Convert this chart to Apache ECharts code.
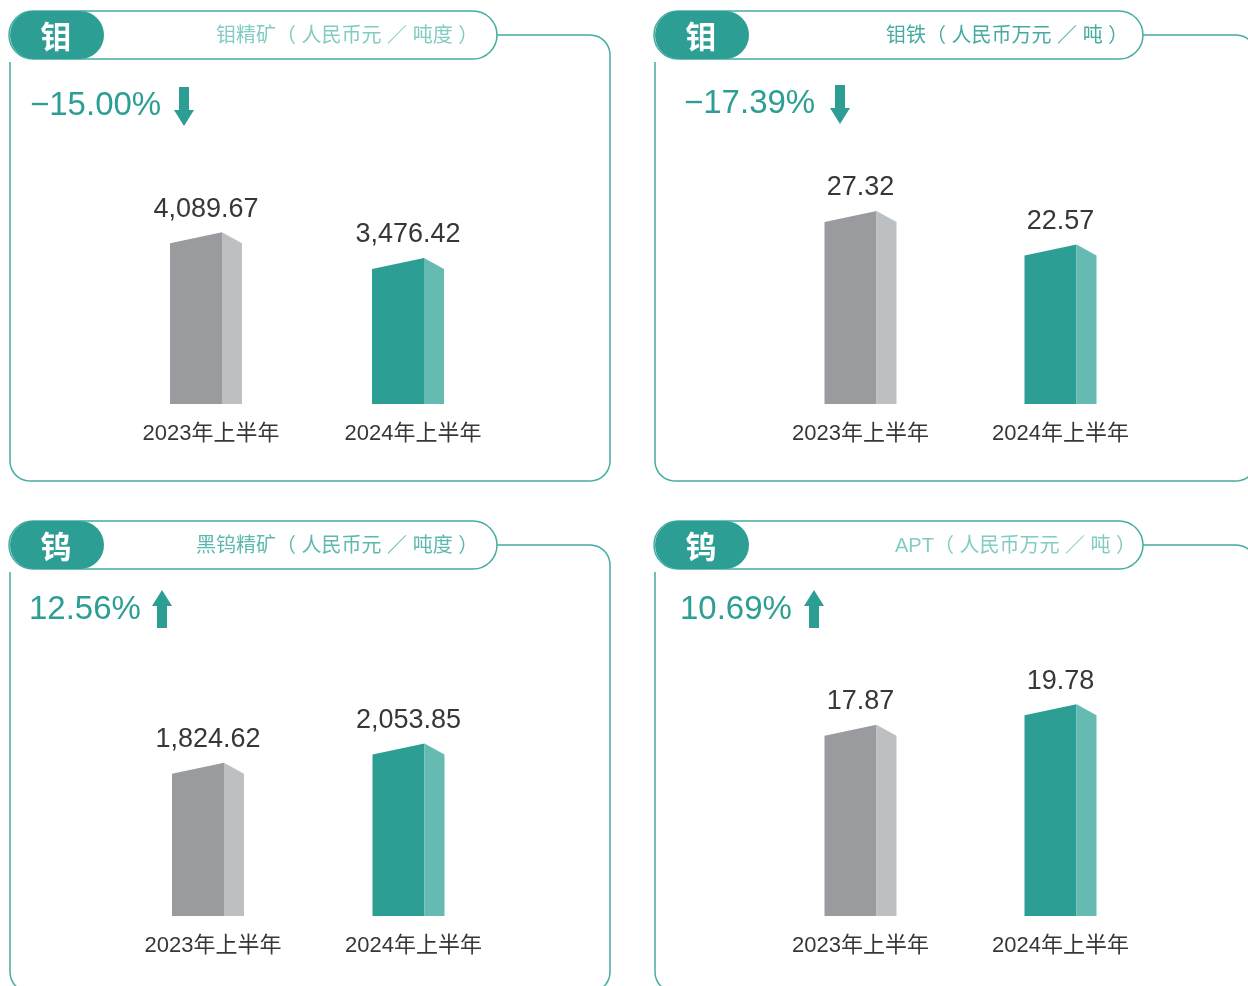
<!DOCTYPE html>
<html>
<head>
<meta charset="utf-8">
<script src="https://cdn.jsdelivr.net/npm/echarts@6/dist/echarts.min.js"></script>
<style>
  html, body { margin: 0; padding: 0; background: #ffffff; }
  #chart { width: 1248px; height: 986px; }
</style>
</head>
<body>
<div id="chart"></div>
<script>
// Half-year price comparison for molybdenum and tungsten products
const categories = ['2023年上半年', '2024年上半年'];
const moConcentrate = [4089.67, 3476.42];   // 钼精矿 元/吨度
const moFerro = [27.32, 22.57];             // 钼铁 万元/吨
const wConcentrate = [1824.62, 2053.85];    // 黑钨精矿 元/吨度
const aptPrice = [17.87, 19.78];            // APT 万元/吨
const metalNames = ['钼', '钼', '钨', '钨'];
const productTitles = [
  '钼精矿（人民币元／吨度）',
  '钼铁（人民币万元／吨）',
  '黑钨精矿（人民币元／吨度）',
  'APT（人民币万元／吨）'
];
const seriesValues = [moConcentrate, moFerro, wConcentrate, aptPrice];

// Panel geometry (frame, grid placement, headline positions)
const panels = [
  { x0: 10,  y0: 11,  pillR: 497,  right: 610,  bottom: 481, gridLeft: 105,   gridW: 404, base: 404, h: 210, max: 5000, titleX: 216, titleColor: '#82ccc4', pctX: 30,  pctY: 106, arrowX: 184, arrowY: 87 },
  { x0: 655, y0: 11,  pillR: 1143, right: 1256, bottom: 481, gridLeft: 760.5, gridW: 400, base: 404, h: 212, max: 30,   titleX: 886, titleColor: '#45aba1', pctX: 684, pctY: 104, arrowX: 840, arrowY: 85 },
  { x0: 10,  y0: 521, pillR: 497,  right: 610,  bottom: 992, gridLeft: 107.75, gridW: 401, base: 916, h: 210, max: 2500, titleX: 196, titleColor: '#5cb9af', pctX: 29,  pctY: 610, arrowX: 162, arrowY: 590 },
  { x0: 655, y0: 521, pillR: 1143, right: 1256, bottom: 992, gridLeft: 760.5, gridW: 400, base: 916, h: 214, max: 20,   titleX: 895, titleColor: '#82ccc4', pctX: 680, pctY: 610, arrowX: 814, arrowY: 590 }
];

const TEAL = '#2c9e94';
const LINE = '#45aca2';
const NUM_FONT = "'Liberation Sans', Arial, 'Noto Sans CJK SC', sans-serif";
const CJK_FONT = "'Liberation Sans', 'Noto Sans CJK SC', sans-serif";
const faceColors = [
  { front: '#9a9b9f', side: '#bdc0c3' },
  { front: '#2c9e94', side: '#65bab1' }
];

function fmt(v) {
  return v.toLocaleString('en-US', { minimumFractionDigits: 2, maximumFractionDigits: 2 });
}

// open up the full-width brackets and slash a little
function spacedTitle(t) {
  return t.replace('（', '（ ').replace('／', ' ／ ').replace('）', ' ）');
}

function changeText(vals) {
  const pct = (vals[1] - vals[0]) / vals[0] * 100;
  const s = Math.abs(pct).toFixed(2) + '%';
  return pct < 0 ? '\u2212' + s : s;
}

// Quarter-circle points from angle a0 to a1 around (cx, cy)
function arcPts(cx, cy, r, a0, a1) {
  const pts = [];
  const n = 12;
  for (let i = 0; i <= n; i++) {
    const a = a0 + (a1 - a0) * i / n;
    pts.push([cx + r * Math.cos(a), cy + r * Math.sin(a)]);
  }
  return pts;
}

// Border: connector from the header pill, around the panel, back up the left side
function framePoints(p) {
  const r = 20;
  const cy = p.y0 + 24;
  const H = Math.PI / 2;
  let pts = [[p.pillR, cy]];
  pts = pts.concat(arcPts(p.right - r, cy + r, r, -H, 0));
  pts = pts.concat(arcPts(p.right - r, p.bottom - r, r, 0, H));
  pts = pts.concat(arcPts(p.x0 + r, p.bottom - r, r, H, 2 * H));
  pts.push([p.x0, p.y0 + 51]);
  return pts;
}

function arrowPoints(x, y, down) {
  // shaft 10px wide, head 19px wide, total 39px tall
  if (down) {
    return [[x - 5, y], [x + 5, y], [x + 5, y + 23], [x + 10, y + 23], [x, y + 39], [x - 10, y + 23], [x - 5, y + 23]];
  }
  return [[x, y], [x + 10, y + 16], [x + 5, y + 16], [x + 5, y + 38], [x - 5, y + 38], [x - 5, y + 16], [x - 10, y + 16]];
}

const graphics = [];
panels.forEach(function (p, k) {
  graphics.push({
    type: 'polyline', z: 0,
    shape: { points: framePoints(p) },
    style: { fill: null, stroke: LINE, lineWidth: 1.5 }
  });
  graphics.push({
    type: 'rect', z: 1,
    shape: { x: p.x0 - 1, y: p.y0, width: p.pillR - p.x0 + 1, height: 48, r: 24 },
    style: { fill: '#ffffff', stroke: LINE, lineWidth: 1.5 }
  });
  graphics.push({
    type: 'rect', z: 2,
    shape: { x: p.x0, y: p.y0, width: 94, height: 48, r: 24 },
    style: { fill: TEAL }
  });
  graphics.push({
    type: 'text', z: 3,
    x: p.x0 + 46, y: p.y0 + 25,
    style: {
      text: metalNames[k], fill: '#ffffff',
      font: "bold 31px 'Noto Sans CJK SC', sans-serif",
      align: 'center', verticalAlign: 'middle'
    }
  });
  graphics.push({
    type: 'text', z: 3,
    x: p.titleX, y: p.y0 + 25,
    style: {
      text: spacedTitle(productTitles[k]), fill: p.titleColor,
      font: "20px " + CJK_FONT,
      align: 'left', verticalAlign: 'middle'
    }
  });
  const vals = seriesValues[k];
  const down = vals[1] < vals[0];
  graphics.push({
    type: 'text', z: 3,
    x: p.pctX, y: p.pctY,
    style: {
      text: changeText(vals), fill: TEAL,
      font: "33px " + NUM_FONT,
      align: 'left', verticalAlign: 'middle'
    }
  });
  graphics.push({
    type: 'polygon', z: 3,
    shape: { points: arrowPoints(p.arrowX, p.arrowY, down) },
    style: { fill: TEAL }
  });
});

// Prism-like bar: front face with a slanted top, lighter side face
function renderPrism(params, api) {
  const idx = api.value(0);
  const val = api.value(1);
  const base = api.coord([idx, 0]);
  const peak = api.coord([idx, val]);
  const cx = base[0];
  const yb = base[1];
  const yt = peak[1];
  const fl = cx - 36, fr = cx + 16, sr = cx + 36, slope = 11;
  const c = faceColors[idx];
  return {
    type: 'group',
    children: [
      {
        type: 'polygon',
        shape: { points: [[fl, yb], [fl, yt + slope], [fr, yt], [fr, yb]] },
        style: { fill: c.front }
      },
      {
        type: 'polygon',
        shape: { points: [[fr, yb], [fr, yt], [sr, yt + slope], [sr, yb]] },
        style: { fill: c.side }
      },
      {
        type: 'text',
        x: cx, y: yt - 23,
        style: {
          text: fmt(val), fill: '#3a3536',
          font: "27px " + NUM_FONT,
          align: 'center', verticalAlign: 'middle'
        }
      }
    ]
  };
}

const grids = [], xAxes = [], yAxes = [], series = [];
panels.forEach(function (p, k) {
  grids.push({
    left: p.gridLeft, top: p.base - p.h, width: p.gridW, height: p.h,
    containLabel: false, outerBoundsMode: 'none'
  });
  xAxes.push({
    type: 'category', gridIndex: k, data: categories,
    axisLine: { show: false }, axisTick: { show: false }, splitLine: { show: false },
    axisLabel: {
      margin: 19, color: '#3a3536', fontSize: 22, fontFamily: CJK_FONT,
      padding: (k === 0 || k === 2) ? [0, 0, 0, 10] : 0
    }
  });
  yAxes.push({
    type: 'value', gridIndex: k, min: 0, max: p.max, show: false
  });
  series.push({
    type: 'custom', xAxisIndex: k, yAxisIndex: k,
    renderItem: renderPrism,
    encode: { x: 0, y: 1 },
    data: seriesValues[k].map(function (v, i) { return [i, v]; }),
    z: 5
  });
});

const chart = echarts.init(document.getElementById('chart'), null, { renderer: 'canvas' });
chart.setOption({
  backgroundColor: '#ffffff',
  animation: false,
  grid: grids,
  xAxis: xAxes,
  yAxis: yAxes,
  series: series,
  graphic: { elements: graphics }
});
</script>
</body>
</html>
